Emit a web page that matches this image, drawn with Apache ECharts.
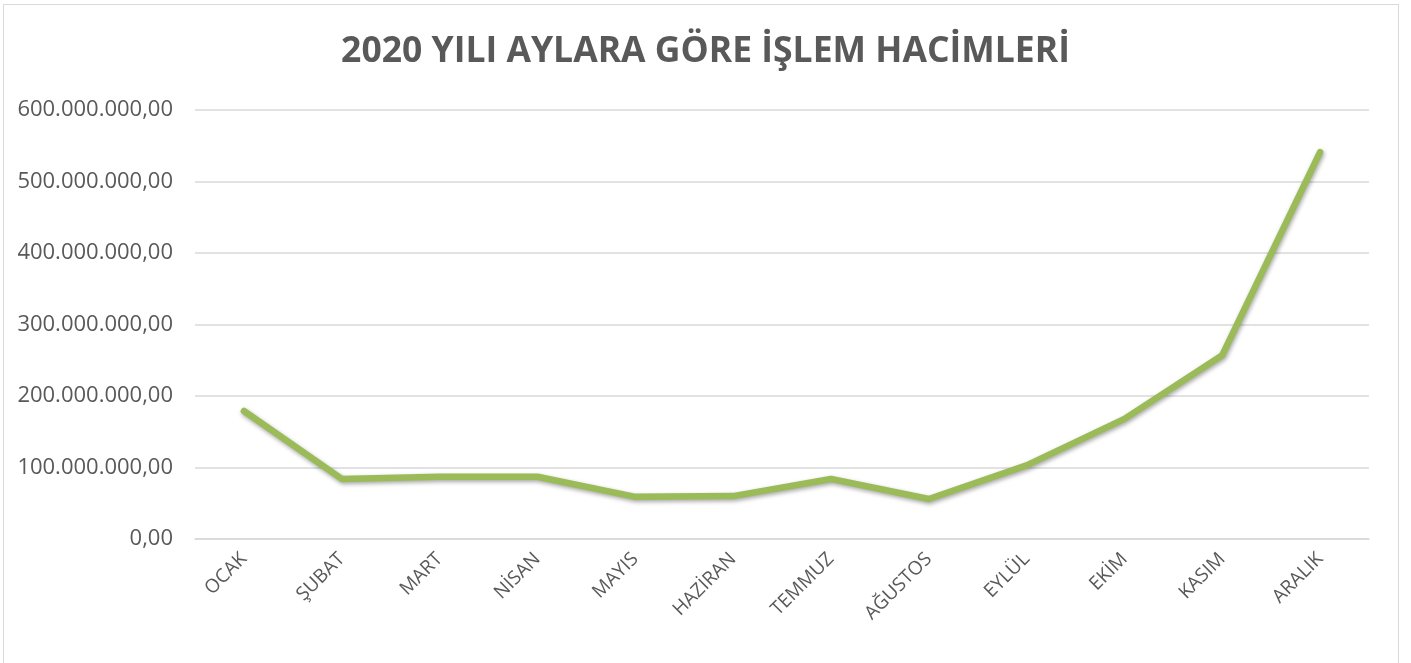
<!DOCTYPE html>
<html>
<head>
<meta charset="UTF-8">
<title>2020 Yılı İşlem Hacimleri</title>
<script src="https://cdn.jsdelivr.net/npm/echarts@6/dist/echarts.min.js"></script>
<style>
	html, body { margin: 0; padding: 0; background: #fff; }
	#frame { position: absolute; left: 3px; top: 4px; width: 1396px; height: 670px; border: 1px solid #d9d9d9; box-sizing: border-box; }
	#main { position: absolute; left: 0; top: 0; width: 1411px; height: 663px; }
</style>
</head>
<body>
<div id="frame"></div>
<div id="main"></div>
<script type="text/javascript">
	// aylar ve işlem hacimleri (TL)
	var aylar = ['OCAK', 'ŞUBAT', 'MART', 'NİSAN', 'MAYIS', 'HAZİRAN', 'TEMMUZ', 'AĞUSTOS', 'EYLÜL', 'EKİM', 'KASIM', 'ARALIK'];
	var hacimler = [179000000, 84000000, 87000000, 87000000, 59000000, 60000000, 84000000, 56000000, 103000000, 168000000, 257000000, 541000000];
	var baslik = '2020 YILI AYLARA GÖRE İŞLEM HACİMLERİ';

	function trFormat(v) {
		var s = Math.round(v).toString().replace(/\B(?=(\d{3})+(?!\d))/g, '.');
		return s + ',00';
	}

	var chart = echarts.init(document.getElementById('main'));
	var option = {
		animation: false,
		title: {
			text: baslik,
			left: 'center',
			top: 29,
			textStyle: {
				fontFamily: 'Open Sans',
				fontWeight: 'bold',
				fontSize: 35.5,
				color: '#595959'
			}
		},
		grid: {
			left: 195,
			right: 42,
			top: 110,
			bottom: 124
		},
		xAxis: {
			type: 'category',
			data: aylar,
			boundaryGap: true,
			axisLine: { show: true, lineStyle: { color: '#d9d9d9', width: 1.5 } },
			axisTick: { show: false },
			axisLabel: {
				rotate: 45,
				margin: 17,
				fontFamily: 'Open Sans',
				fontSize: 19,
				color: '#595959'
			}
		},
		yAxis: {
			type: 'value',
			min: 0,
			max: 600000000,
			interval: 100000000,
			axisLine: { show: false },
			axisTick: { show: false },
			splitLine: { lineStyle: { color: '#d9d9d9', width: 1.5 } },
			axisLabel: {
				margin: 22,
				fontFamily: 'Open Sans',
				fontSize: 22,
				color: '#595959',
				formatter: trFormat
			}
		},
		series: [{
			type: 'line',
			data: hacimler,
			showSymbol: false,
			lineStyle: {
				color: '#9bbb59',
				width: 6.5,
				cap: 'round',
				join: 'round',
				shadowColor: 'rgba(0,0,0,0.35)',
				shadowBlur: 4,
				shadowOffsetX: 1,
				shadowOffsetY: 2
			}
		}]
	};
	chart.setOption(option);
</script>
</body>
</html>
